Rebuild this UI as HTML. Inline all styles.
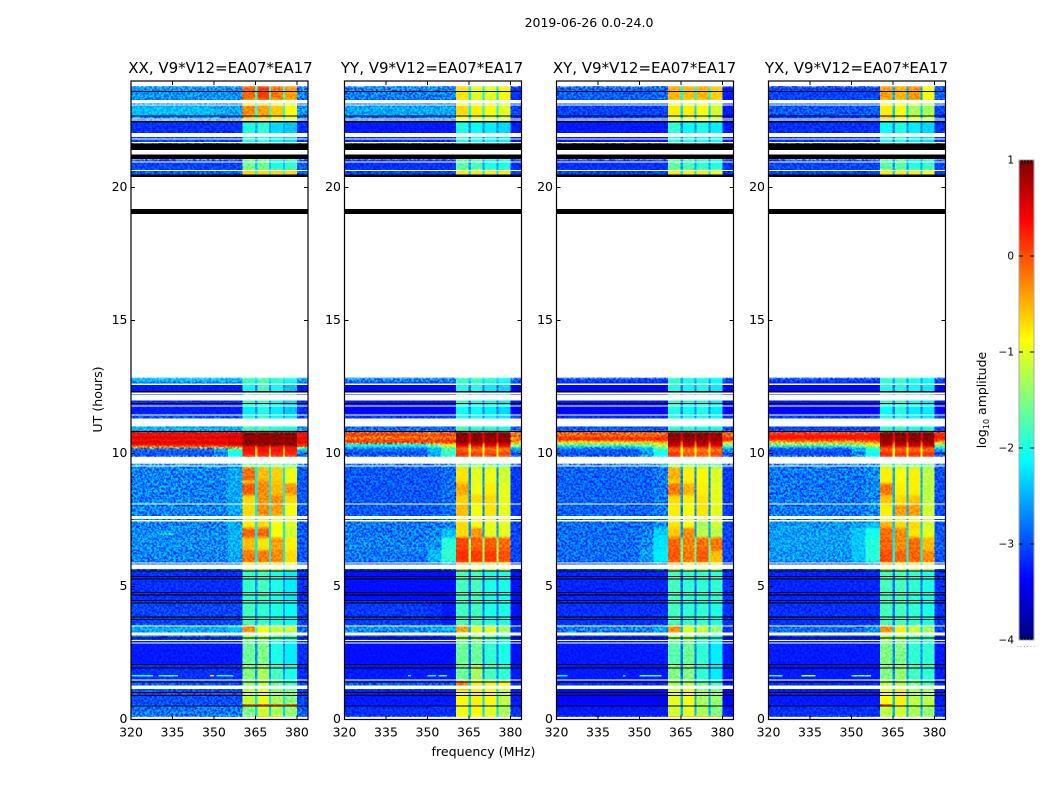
<!DOCTYPE html>
<html>
<head>
<meta charset="utf-8">
<title>2019-06-26 0.0-24.0</title>
<style>
html,body{margin:0;padding:0;background:#fff;}
svg{display:block;font-family:"DejaVu Sans","Liberation Sans",sans-serif;}
text{fill:#000;}
</style>
</head>
<body>
<svg id="figure" xmlns="http://www.w3.org/2000/svg" width="1050" height="800" viewBox="0 0 1050 800" shape-rendering="crispEdges">
  <defs>
    <filter id="grain" x="0" y="0" width="100%" height="100%" color-interpolation-filters="sRGB">
      <feTurbulence type="fractalNoise" baseFrequency="0.42" numOctaves="2" seed="7"/>
      <feColorMatrix type="matrix" values="3 0 0 0 -1  3 0 0 0 -1  3 0 0 0 -1  0 0 0 0 1"/>
    </filter>
    <filter id="soften" filterUnits="userSpaceOnUse" x="0" y="0" width="1050" height="800" color-interpolation-filters="sRGB">
      <feGaussianBlur stdDeviation="0 1.1"/>
    </filter>
  </defs>
  <text x="589" y="27" font-size="12.5" text-anchor="middle">2019-06-26 0.0-24.0</text>
  <text x="483.5" y="756" font-size="12.6" text-anchor="middle">frequency (MHz)</text>
  <text transform="translate(102,399.5) rotate(-90)" font-size="12.6" text-anchor="middle">UT (hours)</text>
  <text transform="translate(986,400) rotate(-90)" font-size="12.5" text-anchor="middle">log<tspan font-size="8" dy="3">10</tspan><tspan dy="-3"> amplitude</tspan></text>
  <g id="panels"></g>
  <g id="colorbar"></g>
</svg>
<script>
// Axis ticks
const freqTicks = [320, 335, 350, 365, 380];
const timeTicks = [0, 5, 10, 15, 20];
const colorTicks = [1, 0, -1, -2, -3, -4];
const panelTitles = ['XX, V9*V12=EA07*EA17', 'YY, V9*V12=EA07*EA17', 'XY, V9*V12=EA07*EA17', 'YX, V9*V12=EA07*EA17'];

// Frequency columns of the heatmap (MHz): left, m1, m2, sub1, notch, sub2, notch, sub3, notch, sub4, right
const columnStart = [320, 350, 355, 360.4, 364.9, 365.7, 369.9, 370.7, 374.9, 375.7, 380];
const columnEnd   = [350, 355, 360.4, 364.9, 365.7, 369.9, 370.7, 374.9, 375.7, 380, 384];
// Which value of a row each column reads: [left,m1,m2,s1,notch,s2,s3,s4,right]
const columnValueIndex = [0, 1, 2, 3, 4, 5, 4, 6, 4, 7, 8];

// Time rows of the heatmap (UT hours)
const rowTop = [23.82,23.28,23.09,22.68,22.45,22.04,21.06,20.65,12.85,12.64,12.30,11.81,11.47,11.02,10.83,10.72,10.65,10.53,10.46,10.38,10.27,10.20,10.05,9.63,9.48,8.99,8.88,8.43,8.09,7.64,7.45,7.19,6.85,6.36,5.91,5.61,4.48,3.54,3.27,2.98,2.07,1.44,1.13,0.53];
const rowBottom = [23.28,23.09,22.68,22.45,22.04,21.66,20.65,20.39,12.64,12.30,11.81,11.47,11.02,10.83,10.72,10.65,10.53,10.46,10.38,10.27,10.20,10.05,9.86,9.48,8.99,8.88,8.43,8.09,7.64,7.45,7.19,6.85,6.36,5.91,5.61,4.48,3.54,3.27,2.98,2.07,1.44,1.13,0.53,0.08];

// log10 amplitude per row: [left,m1,m2,s1,notch,s2,s3,s4,right]
const xxValues = [
[-2.65,-2.65,-2.65,-.1,-1.8,.1,-.2,-.4,-2.75],
[-2.85,-2.85,-2.85,-.9,-2.2,-.8,-.9,-1,-2.95],
[-2.45,-2.55,-2.55,-.3,-1.9,-.4,-.6,-.9,-2.65],
[-2.75,-2.75,-2.75,-.5,-2,-.6,-.8,-1,-2.85],
[-3.15,-3.15,-3.15,-2,-2.5,-1.9,-2.3,-2.4,-3.15],
[-3.05,-3.05,-3.05,-2,-2.5,-1.9,-2.2,-2.3,-3.05],
[-3.05,-3.05,-3.05,-1.6,-2.4,-1.6,-2,-1.9,-2.95],
[-2.95,-2.95,-2.95,-.7,-1.9,-.7,-.7,-.7,-2.95],
[-2.45,-2.45,-2.45,-1.8,-2.2,-1.7,-1.9,-2,-2.55],
[-3.25,-3.25,-3.25,-2.1,-2.7,-1.8,-2.1,-2.4,-3.25],
[-3.15,-3.15,-3.15,-1.9,-2.6,-1.9,-2.1,-2.3,-3.15],
[-3.25,-3.25,-3.25,-2.2,-2.7,-2,-2.2,-2.4,-3.15],
[-2.95,-2.95,-2.95,-2,-2.5,-1.9,-2.1,-2.2,-2.95],
[-2.45,-2.45,-2.45,-1.8,-2.1,-1.8,-1.9,-2,-2.55],
[.5,.5,.55,.95,.85,.95,.95,.95,.45],
[.2,.2,.3,.9,.8,.9,.9,.9,.15],
[.55,.55,.6,.95,.85,.95,.95,.95,.45],
[.2,.25,.35,.9,.8,.9,.9,.9,.2],
[.55,.55,.6,.95,.85,.95,.95,.95,.5],
[.3,.35,.5,.9,.7,.9,.9,.9,.2],
[-.8,-.7,-.4,.2,-.3,.2,.2,.2,-1],
[-2.9,-2.6,-1.8,.35,-.6,.35,.3,.3,-2.3],
[-3,-2.7,-2.1,.2,-.7,.2,.2,.15,-2.9],
[-2.7,-2.7,-2.6,-1.5,-2,-1.5,-1.5,-1.6,-2.8],
[-2.75,-2.75,-2.55,-.15,-2.2,-.55,-.65,-.95,-2.95],
[-2.75,-2.75,-2.55,-.6,-2.2,-.4,-.6,-.9,-2.95],
[-2.75,-2.75,-2.55,-.05,-2.2,-.3,-.55,-.35,-2.95],
[-2.75,-2.75,-2.55,-.7,-2.2,-.35,-.3,-.7,-2.95],
[-2.75,-2.75,-2.55,-.7,-2.2,-.3,-.4,-.9,-2.95],
[-2.8,-2.8,-2.6,-.8,-2.2,-.8,-.9,-1,-2.95],
[-2.75,-2.75,-2.55,-.8,-2.2,-.7,-.9,-1,-2.95],
[-2.7,-2.7,-2.5,-.1,-2.2,-.1,-.9,-1.1,-2.95],
[-2.7,-2.7,-2.5,-.55,-2.2,-.75,-.4,-.8,-2.95],
[-2.75,-2.75,-2.55,-.2,-2.2,-.2,-.3,-.7,-2.95],
[-2.95,-2.95,-2.85,-.8,-2.2,-.8,-.8,-.9,-2.95],
[-3.15,-3.15,-3.15,-1.9,-2.6,-1.8,-2,-2.2,-3.15],
[-3.05,-3.05,-3.05,-1.8,-2.6,-1.9,-2,-2.1,-3.05],
[-2.55,-2.55,-2.35,-.3,-1.7,-.9,-1.1,-1.1,-2.85],
[-2.95,-2.95,-2.95,-1.4,-2.3,-1.3,-1.6,-1.8,-3.05],
[-3.25,-3.25,-3.25,-1.6,-2.7,-1.5,-2,-2.2,-3.15],
[-3.15,-3.15,-3.15,-1.5,-2.6,-1.3,-1.8,-2,-3.15],
[-2.95,-2.95,-2.95,-1.4,-2.4,-1.2,-1.6,-1.8,-3.05],
[-3,-3,-3,-1.15,-2.2,-.95,-1.3,-1.5,-3.05],
[-2.8,-2.8,-2.8,-1.5,-2.3,-1.1,-1.3,-1.4,-2.9]
];
const yyValues = [
[-2.75,-2.75,-2.75,-.75,-2.2,-1,-1,-.85,-3.15],
[-2.95,-2.95,-2.95,-1,-2.4,-1.1,-1.1,-1.1,-3.15],
[-2.55,-2.55,-2.55,-.7,-2.1,-.8,-.9,-1,-3.05],
[-2.85,-2.85,-2.85,-.9,-2.3,-1,-1,-1.1,-3.15],
[-3.25,-3.25,-3.25,-2,-2.7,-2.1,-2.2,-2.3,-3.25],
[-3.15,-3.15,-3.15,-1.9,-2.7,-2,-2.1,-2.2,-3.25],
[-3.15,-3.15,-3.15,-1.7,-2.6,-1.8,-2,-2,-3.15],
[-3.05,-3.05,-3.05,-.8,-2.2,-.8,-.8,-.8,-3.05],
[-2.75,-2.75,-2.75,-1.8,-2.3,-1.8,-1.9,-2,-2.85],
[-3.35,-3.35,-3.35,-2,-2.8,-2,-2.2,-2.3,-3.35],
[-3.25,-3.25,-3.25,-1.9,-2.7,-2,-2.1,-2.2,-3.25],
[-3.35,-3.35,-3.35,-2.1,-2.8,-2.1,-2.2,-2.3,-3.35],
[-3.05,-3.05,-3.05,-2,-2.6,-2,-2.1,-2.2,-3.05],
[-2.85,-2.85,-2.85,-1.8,-2.4,-1.9,-1.9,-2,-2.85],
[-.1,-.2,-.1,.95,.4,.95,.95,.95,-.3],
[.35,.3,.3,.95,.5,.95,.95,.95,.3],
[-.3,-.3,-.2,.95,.4,.95,.95,.95,-.5],
[.2,.2,.2,.95,.5,.95,.95,.95,.1],
[.1,.1,.2,.9,.4,.9,.9,.9,-.5],
[-2,-1.5,-.9,.6,-.6,.6,.6,.5,-1.3],
[-2.4,-2.1,-1.5,.1,-.9,.1,.1,.1,-2],
[-2.9,-2.5,-1.8,-.1,-.9,-.2,-.2,-.2,-2.6],
[-3,-2.5,-1.9,.15,-1,.1,.1,.05,-3],
[-2.9,-2.9,-2.7,-1.4,-2.3,-1.4,-1.5,-1.6,-3],
[-2.95,-2.95,-2.85,-.75,-2.7,-1,-.95,-1.1,-3.1],
[-2.95,-2.95,-2.85,-.7,-2.7,-1,-.95,-1.1,-3.1],
[-2.95,-2.95,-2.85,-.45,-2.7,-.95,-.8,-1,-3.1],
[-2.95,-2.95,-2.85,-.65,-2.7,-.7,-.7,-1,-3.1],
[-2.95,-2.95,-2.85,-.55,-2.7,-.9,-.75,-1,-3.1],
[-2.95,-2.95,-2.85,-.8,-2.7,-.9,-1,-1,-3.1],
[-2.8,-2.8,-2.75,-.7,-2.6,-.9,-.95,-1,-3.05],
[-2.8,-2.75,-2.45,-.7,-2.6,-.35,-1,-1,-3.05],
[-2.75,-2.65,-1.95,.05,-1.4,-.1,-.05,-.15,-3.05],
[-2.8,-2.45,-1.9,.15,-1.3,.1,.1,0,-3.05],
[-3.05,-3.05,-2.75,-.6,-2.5,-.9,-.9,-.9,-3.15],
[-3.3,-3.3,-3.3,-1.8,-2.9,-1.8,-2,-2,-3.3],
[-3.1,-3.15,-3.25,-1.8,-2.8,-1.8,-2,-2,-3.3],
[-2.65,-2.55,-2.45,-.4,-2.5,-1,-1,-1.3,-3.15],
[-3.15,-3.15,-3.15,-1.3,-2.6,-1.4,-1.6,-1.8,-3.25],
[-3.3,-3.3,-3.3,-1.6,-2.8,-1.6,-1.9,-2,-3.3],
[-3.25,-3.25,-3.25,-1.6,-2.7,-1.3,-1.8,-1.9,-3.25],
[-2.95,-2.95,-2.95,-.2,-2.3,-.8,-.8,-.9,-3.15],
[-3.25,-3.25,-3.25,-.85,-2.3,-.8,-.85,-1.2,-3.25],
[-3.15,-3.15,-3.15,-.95,-2.3,-.85,-1,-1.3,-3.15]
];
const xyValues = [
[-2.9,-2.9,-2.9,-.5,-2.1,-.55,-.5,-.65,-3.25],
[-3.05,-3.05,-3.05,-1,-2.3,-1,-1,-1.1,-3.25],
[-3.05,-3.05,-3.05,-.8,-2.3,-.8,-.9,-1.1,-3.25],
[-3.05,-3.05,-3.05,-1,-2.4,-1,-1,-1.2,-3.25],
[-3.25,-3.25,-3.25,-1.9,-2.7,-2.1,-2,-2.2,-3.25],
[-3.25,-3.25,-3.25,-1.9,-2.7,-2,-2,-2.1,-3.25],
[-3.15,-3.15,-3.15,-1.7,-2.6,-1.8,-1.9,-2,-3.15],
[-3.05,-3.05,-3.05,-.8,-2.2,-.8,-.8,-.9,-3.15],
[-3.05,-3.05,-3.05,-1.9,-2.5,-2,-2,-2.1,-3.05],
[-3.35,-3.35,-3.35,-2,-2.8,-2.1,-2,-2.2,-3.35],
[-3.25,-3.25,-3.25,-1.9,-2.7,-2,-2,-2.2,-3.25],
[-3.35,-3.35,-3.35,-2,-2.8,-2.1,-2,-2.2,-3.35],
[-3.15,-3.15,-3.15,-2,-2.6,-2,-2,-2.1,-3.15],
[-2.95,-2.95,-2.95,-1.9,-2.4,-1.9,-2,-2,-2.95],
[-.1,-.15,-.1,.95,.6,.95,.95,.85,-.1],
[-.2,-.2,-.1,.95,.6,.95,.95,.85,-.2],
[.1,.1,.15,.95,.6,.95,.95,.85,.1],
[.3,.3,.3,.95,.6,.95,.95,.85,.3],
[-.8,-.7,-.5,.8,.1,.8,.8,.7,-.8],
[-1.7,-1.5,-1.1,.7,-.3,.7,.7,.6,-1.6],
[-2.5,-2.2,-1.6,.2,-.7,.2,.2,.15,-2],
[-2.9,-2.5,-1.9,-.1,-.9,-.2,-.2,-.2,-2.7],
[-3,-2.7,-2.1,.15,-1,-.05,-.05,.05,-3],
[-2.85,-2.85,-2.7,-1.4,-2.3,-1.4,-1.5,-1.6,-3],
[-2.9,-2.9,-2.8,-.5,-2.7,-.8,-.85,-1.05,-3.1],
[-2.9,-2.9,-2.8,-.7,-2.7,-.8,-.85,-1.05,-3.1],
[-2.9,-2.9,-2.8,-.2,-2.7,-.5,-.8,-1,-3.1],
[-2.9,-2.9,-2.8,-.7,-2.7,-.8,-.75,-1,-3.1],
[-2.9,-2.9,-2.8,-.8,-2.7,-.9,-.75,-1,-3.1],
[-2.9,-2.9,-2.8,-.85,-2.7,-.9,-1,-1.05,-3.1],
[-2.85,-2.85,-2.7,-.75,-2.6,-.9,-1.3,-1.1,-3.05],
[-2.85,-2.75,-2.35,-.6,-2.6,-.3,-1.2,-1.2,-3.05],
[-2.85,-2.7,-2.25,-.1,-1.7,-.25,-.15,-.2,-3.05],
[-2.85,-2.6,-2.2,-.05,-1.6,-.2,-.05,-.55,-3.05],
[-3.05,-3.05,-2.85,-.6,-2.5,-.9,-.9,-1,-3.15],
[-3.2,-3.2,-3.2,-1.8,-2.9,-1.9,-1.9,-1.9,-3.15],
[-3.15,-3.15,-3.15,-1.8,-2.8,-1.9,-1.9,-2,-3.15],
[-2.75,-2.75,-2.55,-.3,-2.4,-1,-1.1,-1.4,-3.1],
[-3.15,-3.15,-3.15,-1.3,-2.6,-1.3,-1.7,-1.9,-3.25],
[-3.25,-3.25,-3.25,-1.7,-2.8,-1.6,-1.9,-2.2,-3.25],
[-3.25,-3.25,-3.25,-1.5,-2.8,-1.5,-1.9,-2.2,-3.25],
[-3.15,-3.15,-3.15,-1.3,-2.6,-1.2,-1.6,-1.8,-3.25],
[-3.35,-3.35,-3.35,-1,-2.5,-.9,-1.3,-1.4,-3.35],
[-3.25,-3.25,-3.25,-1.1,-2.5,-1,-1.3,-1.5,-3.25]
];
const yxValues = [
[-3.05,-3.05,-3.05,-.4,-2.5,-.5,-.35,-.9,-2.95],
[-3.05,-3.05,-3.05,-1,-2.5,-1,-1,-1.2,-3.05],
[-2.95,-2.95,-2.95,-.8,-2.4,-.9,-1.3,-1.3,-3.05],
[-3.05,-3.05,-3.05,-.6,-2.4,-.8,-1,-1.2,-3.05],
[-3.15,-3.15,-3.15,-2.1,-2.7,-2,-2.2,-2.3,-3.15],
[-3.15,-3.15,-3.15,-2,-2.7,-2,-2.2,-2.3,-3.15],
[-3.05,-3.05,-3.05,-1.7,-2.6,-1.7,-2,-1.9,-3.05],
[-3.05,-3.05,-3.05,-.8,-2.3,-.8,-.8,-.9,-3.05],
[-3.05,-3.05,-3.05,-1.9,-2.5,-1.9,-2,-2.1,-3.05],
[-3.35,-3.35,-3.35,-2,-2.8,-2,-2.1,-2.2,-3.35],
[-3.25,-3.25,-3.25,-1.9,-2.7,-1.9,-2.1,-2.2,-3.25],
[-3.35,-3.35,-3.35,-2.1,-2.8,-2,-2.2,-2.2,-3.35],
[-3.05,-3.05,-3.05,-2,-2.6,-2,-2.1,-2.2,-3.05],
[-3.05,-3.05,-3.05,-1.9,-2.5,-1.9,-2,-2,-3.05],
[0,0,.05,.95,.5,.95,.95,.95,0],
[.3,.3,.3,.95,.5,.95,.95,.95,.25],
[.3,.3,.3,.95,.5,.95,.95,.95,.25],
[.1,.1,.15,.95,.5,.95,.95,.95,.1],
[-.6,-.5,-.3,.85,.1,.85,.85,.85,-.6],
[-1.6,-1.4,-1,.7,-.3,.7,.7,.7,-1.5],
[-2.4,-2.1,-1.6,.2,-.7,.2,.2,.2,-2],
[-3,-2.6,-2,-.1,-.9,-.1,-.15,-.15,-2.6],
[-3,-2.7,-2.1,.2,-1,.15,.15,.15,-3],
[-2.8,-2.8,-2.7,-1.4,-2.3,-1.4,-1.5,-1.6,-2.95],
[-2.8,-2.8,-2.7,-.8,-2.5,-.9,-.8,-1.2,-3],
[-2.8,-2.8,-2.7,-.8,-2.5,-.85,-.8,-1.2,-3],
[-2.8,-2.8,-2.7,-.2,-2.5,-.8,-.8,-1.2,-3],
[-2.8,-2.8,-2.7,-.6,-2.5,-.7,-.6,-1.2,-3],
[-2.8,-2.8,-2.7,-.8,-2.5,-.4,-.4,-1.1,-3],
[-2.8,-2.8,-2.7,-.9,-2.5,-.8,-.9,-1.1,-3],
[-2.65,-2.6,-2.45,-.5,-2.4,-.7,-.7,-1.1,-2.95],
[-2.6,-2.4,-2.05,-.15,-2.3,-.3,-.75,-1,-2.95],
[-2.6,-2.4,-1.95,-.1,-2.2,-.3,-.15,-.55,-2.95],
[-2.65,-2.4,-1.95,0,-2.1,-.1,-.1,-.3,-2.95],
[-3.05,-3.05,-2.75,-.6,-2.5,-.9,-.9,-1,-3.05],
[-3.2,-3.2,-3.2,-1.8,-2.8,-1.8,-1.9,-2,-3.15],
[-3.15,-3.15,-3.15,-1.8,-2.8,-1.8,-1.9,-2,-3.15],
[-2.85,-2.85,-2.65,-.3,-2.3,-.8,-1.1,-1.3,-3.05],
[-3.15,-3.15,-3.15,-1.3,-2.5,-1.3,-1.6,-1.7,-3.15],
[-3.25,-3.25,-3.25,-1.5,-2.7,-1.5,-1.9,-1.9,-3.25],
[-3.25,-3.25,-3.25,-1.5,-2.7,-1.4,-1.8,-1.9,-3.25],
[-3.15,-3.15,-3.15,-1.2,-2.5,-1.2,-1.5,-1.7,-3.15],
[-3.25,-3.25,-3.25,-.9,-2.4,-.8,-1.2,-1.2,-3.25],
[-3.15,-3.15,-3.15,-1.2,-2.5,-1.1,-1.3,-1.4,-3.15]
];

// Narrow features read by eye: panel index, hour top, hour bottom, freq start, freq end, value
const spikePanel = [0,0,0,0,0,0,1,1,1,2,2,2,3,3,3,0,2,3];
const spikeTop   = [1.67,1.67,1.67,1.67,0.58,0.14,1.67,1.67,1.67,1.67,1.67,1.67,1.67,1.67,1.67,7.0,0.14,0.58];
const spikeBot   = [1.62,1.62,1.62,1.62,0.53,0.08,1.62,1.62,1.62,1.62,1.62,1.62,1.62,1.62,1.62,6.95,0.08,0.53];
const spikeFrom  = [320,330,348.5,351,360.4,365.7,343,350,354,320,344,350,320,332,350,330,360.4,360.4];
const spikeTo    = [328,337,350,357,380,375,344,353,357,324,345,358,325,337,357,336,380,365];
const spikeValue = [-1.9,-1.8,-.6,-1.9,-.1,-.7,-2,-2,-1.8,-2.1,-2.1,-1.7,-1.9,-1.2,-1.6,-1.7,-.6,-.1];

// Flagged time ranges (UT hours) shared by every panel
const whiteFrom = [24,23.28,23.12,22.59,22.52,22.05,21.84,21.71,21.4,20.98,20.65,20.39,19.0,12.63,12.29,12.2,11.81,11.47,11.32,9.87,9.55,8.11,7.65,7.49,5.9,5.82,3.54,3.27,2.98,2.89,1.5,1.27,0.09];
const whiteTo   = [23.82,23.15,23.10,22.56,22.5,21.9,21.81,21.69,21.24,20.96,20.62,19.18,12.85,12.58,12.22,12.0,11.79,11.44,11.02,9.62,9.53,8.08,7.53,7.45,5.86,5.65,3.51,3.16,2.95,2.86,1.47,1.14,0];
const blackFrom = [23.62,22.71,22.49,21.66,21.24,20.48,19.18,12.34,11.9,10.85,5.6,5.39,5.3,4.8,4.7,4.49,4.39,3.87,3.78,3.09,2.08,1.95,1.42,1.04,0.92,0.53];
const blackTo   = [23.58,22.68,22.44,21.4,21.06,20.39,19.0,12.3,11.87,10.83,5.58,5.37,5.28,4.77,4.67,4.46,4.36,3.84,3.75,3.05,2.05,1.92,1.39,1.01,0.89,0.5];

const panelValues = [xxValues, yyValues, xyValues, yxValues];
const panelLeft = [131, 344.5, 556.5, 768.5];
const titleCenter = [220.5, 432, 644.5, 856.5];
const panelWidth = 177;
const plotTop = 81;
const plotBottom = 719.5;
const FMIN = 320, FMAX = 384, TMIN = 0, TMAX = 24;
const HIGH_START = 360.4, HIGH_END = 380;

const SVGNS = 'http://www.w3.org/2000/svg';
function xScale(p, f) { return panelLeft[p] + (f - FMIN) / (FMAX - FMIN) * panelWidth; }
function yScale(h) { return plotBottom - (h - TMIN) / (TMAX - TMIN) * (plotBottom - plotTop); }
function clamp01(v) { return Math.max(0, Math.min(1, v)); }
function jet(t) {
  const r = clamp01(Math.min(4 * t - 1.5, -4 * t + 4.5));
  const g = clamp01(Math.min(4 * t - 0.5, -4 * t + 3.5));
  const b = clamp01(Math.min(4 * t + 0.5, -4 * t + 2.5));
  return 'rgb(' + Math.round(r * 255) + ',' + Math.round(g * 255) + ',' + Math.round(b * 255) + ')';
}
function amp(v) { return jet((v + 4) / 5); }
function mk(tag, attrs, parent) {
  const el = document.createElementNS(SVGNS, tag);
  for (const k in attrs) el.setAttribute(k, attrs[k]);
  parent.appendChild(el);
  return el;
}

const root = document.getElementById('panels');
panelValues.forEach(function (values, p) {
  const g = mk('g', {}, root);
  
  

  const title = mk('text', { x: titleCenter[p], y: 73, 'font-size': 15, 'text-anchor': 'middle' }, g);
  title.textContent = panelTitles[p];
  
  

  const cells = mk('g', { filter: 'url(#soften)' }, g);
  
  

  values.forEach(function (row, r) {
    columnStart.forEach(function (f0, c) {
      const x0 = xScale(p, f0), x1 = xScale(p, columnEnd[c]);
      const y0 = yScale(rowTop[r]), y1 = yScale(rowBottom[r]);
      const cell = mk('rect', { x: x0, y: y0, width: x1 - x0, height: y1 - y0, fill: amp(row[columnValueIndex[c]]) }, cells);
      
      
    });
  });

  spikePanel.forEach(function (sp, i) {
    if (sp !== p) return;
    const s = mk('rect', { x: xScale(p, spikeFrom[i]), y: yScale(spikeTop[i]), width: xScale(p, spikeTo[i]) - xScale(p, spikeFrom[i]), height: Math.max(1, yScale(spikeBot[i]) - yScale(spikeTop[i])), fill: amp(spikeValue[i]) }, g);
    
    
  });

  // decorative pixel grain, not data: stronger on the broadband, weaker on the bright subbands
  const grainLeft = mk('rect', { x: xScale(p, FMIN), y: plotTop, width: xScale(p, HIGH_START) - xScale(p, FMIN), height: plotBottom - plotTop, filter: 'url(#grain)', opacity: 0.65, style: 'mix-blend-mode:overlay' }, g);
  
  
  const grainHigh = mk('rect', { x: xScale(p, HIGH_START), y: plotTop, width: xScale(p, HIGH_END) - xScale(p, HIGH_START), height: plotBottom - plotTop, filter: 'url(#grain)', opacity: 0.3, style: 'mix-blend-mode:overlay' }, g);
  
  
  const grainRight = mk('rect', { x: xScale(p, HIGH_END), y: plotTop, width: xScale(p, FMAX) - xScale(p, HIGH_END), height: plotBottom - plotTop, filter: 'url(#grain)', opacity: 0.65, style: 'mix-blend-mode:overlay' }, g);
  
  

  whiteFrom.forEach(function (h, i) {
    const m = mk('rect', { x: panelLeft[p], y: yScale(h), width: panelWidth, height: Math.max(1, yScale(whiteTo[i]) - yScale(h)), fill: '#fff' }, g);
    
    
  });
  blackFrom.forEach(function (h, i) {
    const m = mk('rect', { x: panelLeft[p], y: yScale(h), width: panelWidth, height: Math.max(1, yScale(blackTo[i]) - yScale(h)), fill: '#000' }, g);
    
    
  });

  const frame = mk('rect', { x: panelLeft[p], y: plotTop, width: panelWidth, height: plotBottom - plotTop, fill: 'none', stroke: '#000', 'stroke-width': 1.2, 'shape-rendering': 'auto' }, g);
  
  

  freqTicks.forEach(function (f) {
    const x = xScale(p, f);
    const t = mk('path', { d: 'M' + x + ' ' + plotBottom + 'v-4M' + x + ' ' + plotTop + 'v4', stroke: '#000', 'stroke-width': 1, fill: 'none' }, g);
    
    
    const l = mk('text', { x: x, y: 736.5, 'font-size': 12.5, 'text-anchor': 'middle' }, g);
    l.textContent = f;
    
    
  });
  timeTicks.forEach(function (h) {
    const y = yScale(h);
    const t = mk('path', { d: 'M' + panelLeft[p] + ' ' + y + 'h4M' + (panelLeft[p] + panelWidth) + ' ' + y + 'h-4', stroke: '#000', 'stroke-width': 1, fill: 'none' }, g);
    
    
    const l = mk('text', { x: panelLeft[p] - 3.5, y: y + 3.5, 'font-size': 12.5, 'text-anchor': 'end' }, g);
    l.textContent = h;
    
    
  });
});

// Colorbar
const cb = document.getElementById('colorbar');
const cbMin = -4, cbMax = 1, cbLeft = 1019, cbWidth = 15, cbTop = 160, cbBottom = 640;
function cbY(v) { return cbBottom - (v - cbMin) / (cbMax - cbMin) * (cbBottom - cbTop); }
for (let i = 0; i < 256; i++) {
  const v0 = cbMin + (cbMax - cbMin) * i / 256;
  const v1 = cbMin + (cbMax - cbMin) * (i + 1) / 256;
  const s = mk('rect', { x: cbLeft, y: cbY(v1), width: cbWidth, height: cbY(v0) - cbY(v1) + 0.5, fill: amp(v0) }, cb);
  
  
}
const cbFrame = mk('rect', { x: cbLeft, y: cbTop, width: cbWidth, height: cbBottom - cbTop, fill: 'none', stroke: '#aaa', 'stroke-width': 1 }, cb);


colorTicks.forEach(function (v) {
  const y = cbY(v);
  if (v !== cbMin && v !== cbMax) {
    const t = mk('path', { d: 'M' + cbLeft + ' ' + y + 'h4M' + (cbLeft + cbWidth) + ' ' + y + 'h-4', stroke: '#000', 'stroke-width': 1, fill: 'none' }, cb);
    
    
  }
  const l = mk('text', { x: 1014, y: y + 3.5, 'font-size': 10.5, 'text-anchor': 'end' }, cb);
  l.textContent = v < 0 ? '\u2212' + Math.abs(v) : String(v);
  
  
});
[3, 6, 9, 12].forEach(function (dx) {
  const t = mk('path', { d: 'M' + (cbLeft + dx) + ' ' + cbTop + 'v4M' + (cbLeft + dx) + ' ' + cbBottom + 'v-4', stroke: '#000', 'stroke-width': 1, fill: 'none' }, cb);
  
  
});
const dots = mk('text', { x: 1026.5, y: 647, 'font-size': 7, 'text-anchor': 'middle', style: 'fill:#777;letter-spacing:1px' }, cb);
dots.textContent = '......';


</script>
</body>
</html>
